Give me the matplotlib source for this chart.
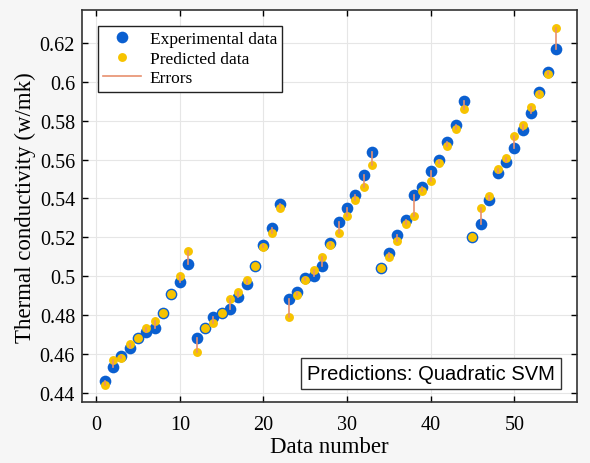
import numpy as np
import matplotlib
matplotlib.use("Agg")
import matplotlib.pyplot as plt

# values
data_number = np.arange(1, 56)
experimental = [0.446, 0.453, 0.459, 0.463, 0.468, 0.471, 0.473, 0.481, 0.491, 0.497, 0.506,
                0.468, 0.473, 0.479, 0.481, 0.483, 0.489, 0.496, 0.505, 0.516, 0.525, 0.537,
                0.488, 0.492, 0.499, 0.500, 0.505, 0.517, 0.528, 0.535, 0.542, 0.552, 0.564,
                0.504, 0.512, 0.521, 0.529, 0.542, 0.546, 0.554, 0.560, 0.569, 0.578, 0.590,
                0.520, 0.527, 0.539, 0.553, 0.559, 0.566, 0.575, 0.584, 0.595, 0.605, 0.617]
predicted = [0.444, 0.457, 0.458, 0.465, 0.468, 0.473, 0.477, 0.481, 0.491, 0.500, 0.513,
             0.461, 0.473, 0.476, 0.481, 0.488, 0.492, 0.498, 0.505, 0.515, 0.522, 0.535,
             0.479, 0.490, 0.498, 0.503, 0.510, 0.516, 0.522, 0.531, 0.539, 0.546, 0.557,
             0.504, 0.510, 0.518, 0.527, 0.531, 0.544, 0.549, 0.558, 0.567, 0.576, 0.586,
             0.520, 0.535, 0.541, 0.555, 0.561, 0.572, 0.578, 0.587, 0.594, 0.604, 0.628]

serif = ["Liberation Serif", "DejaVu Serif"]

fig = plt.figure(figsize=(5.9, 4.64), dpi=100, facecolor="#f6f6f6")
ax = fig.add_axes([0.139, 0.131, 0.839, 0.845])

ax.plot(data_number, experimental, "o", color="#0a5fd0", ms=8.4, mec="none",
        label="Experimental data", zorder=3)
ax.plot(data_number, predicted, "o", color="#f7c300", ms=6.4, mec="none",
        label="Predicted data", zorder=4)
for i, (e, p) in enumerate(zip(experimental, predicted)):
    ax.plot([data_number[i], data_number[i]], [e, p], color="#e8906e", lw=1.2,
            zorder=5, label="Errors" if i == 0 else None)

ax.set_xlim(-1.7, 57.5)
ax.set_ylim(0.435, 0.637)
ax.set_xticks([0, 10, 20, 30, 40, 50])
ax.set_yticks([0.44, 0.46, 0.48, 0.5, 0.52, 0.54, 0.56, 0.58, 0.6, 0.62])
ax.set_yticklabels(["0.44", "0.46", "0.48", "0.5", "0.52", "0.54", "0.56", "0.58", "0.6", "0.62"])
ax.grid(True, color="#e6e6e6", lw=0.8)
ax.set_axisbelow(True)
ax.tick_params(direction="in", top=True, right=True, length=4, width=1, labelsize=14.5)
ax.tick_params(axis="x", pad=9)
ax.tick_params(axis="y", pad=5)
for lab in ax.get_xticklabels() + ax.get_yticklabels():
    lab.set_family(serif)
for sp in ax.spines.values():
    sp.set_linewidth(1.2)
    sp.set_color("#333333")

ax.set_xlabel("Data number", family=serif, fontsize=16.5, labelpad=2)
ax.set_ylabel("Thermal conductivity (w/mk)", family=serif, fontsize=16.5, labelpad=3)

leg = ax.legend(loc="upper left", prop={"family": serif, "size": 12.5}, fancybox=False,
                framealpha=1, edgecolor="#222222", borderaxespad=0.9, handlelength=2.2,
                handletextpad=0.5, borderpad=0.3, labelspacing=0.2)
leg.get_frame().set_linewidth(1.0)

ax.text(0.955, 0.05, "Predictions: Quadratic SVM", transform=ax.transAxes, ha="right",
        va="bottom", fontsize=14.5, family=["Liberation Sans", "DejaVu Sans"],
        bbox=dict(boxstyle="square,pad=0.3", fc="white", ec="#333333", lw=1.0))

fig.savefig("out.png", dpi=100, facecolor=fig.get_facecolor())
